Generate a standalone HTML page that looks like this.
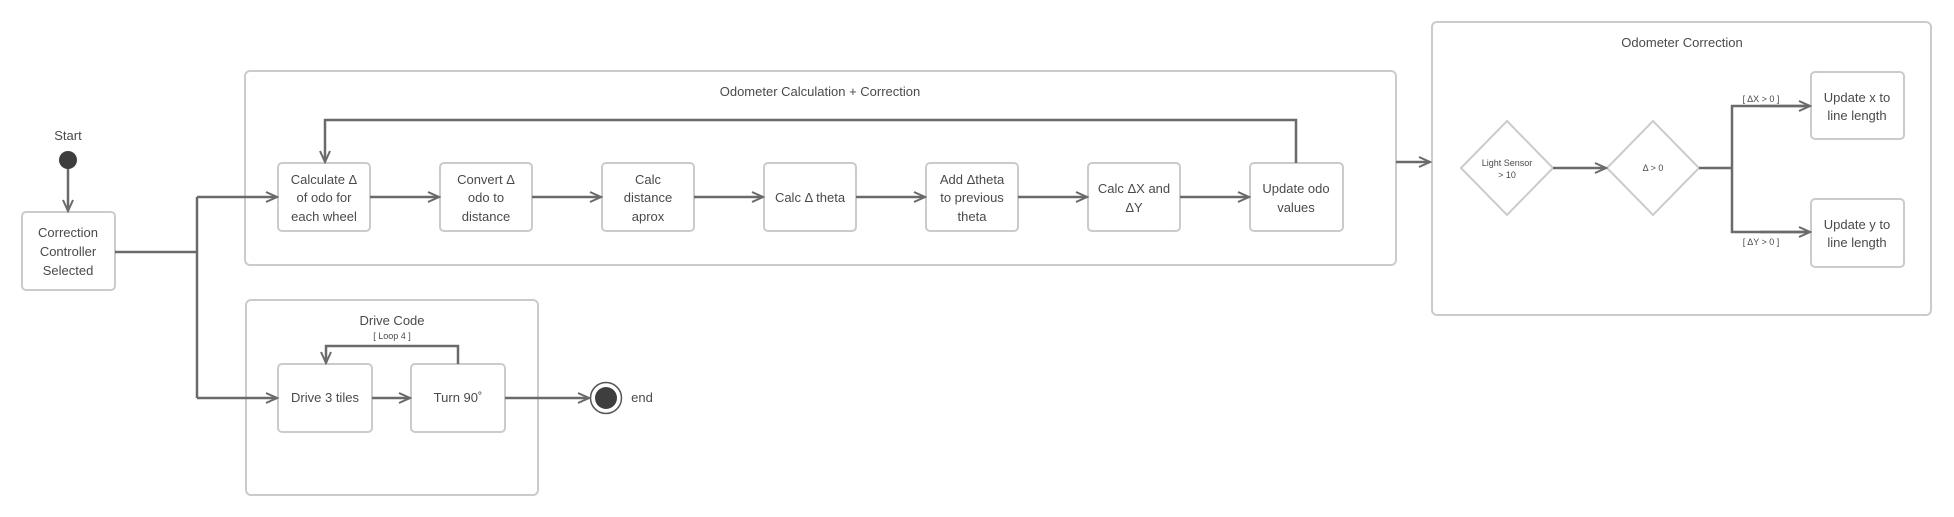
<!DOCTYPE html>
<html><head><meta charset="utf-8"><style>
html,body{margin:0;padding:0;background:#fff;}
svg{display:block;}
text{font-family:"Liberation Sans","DejaVu Sans",sans-serif;fill:#4a4a4a;}
</style></head><body>
<svg width="1954" height="517" viewBox="0 0 1954 517" xmlns="http://www.w3.org/2000/svg">
<defs>
<marker id="a" markerWidth="14" markerHeight="12" refX="12" refY="6" orient="auto" markerUnits="userSpaceOnUse">
<path d="M1,1 L12,6 L1,11" fill="none" stroke="#6a6a6a" stroke-width="2"/>
</marker>
</defs>
<g fill="#fff" stroke="#c9cccc" stroke-width="2">
<rect x="245" y="71" width="1151" height="194" rx="5"/>
<rect x="1432" y="22" width="499" height="293" rx="5"/>
<rect x="246" y="300" width="292" height="195" rx="5"/>
<rect x="22" y="212" width="93" height="78" rx="4"/>
<rect x="278" y="163" width="92" height="68" rx="4"/>
<rect x="440" y="163" width="92" height="68" rx="4"/>
<rect x="602" y="163" width="92" height="68" rx="4"/>
<rect x="764" y="163" width="92" height="68" rx="4"/>
<rect x="926" y="163" width="92" height="68" rx="4"/>
<rect x="1088" y="163" width="92" height="68" rx="4"/>
<rect x="1250" y="163" width="93" height="68" rx="4"/>
<rect x="1811" y="72" width="93" height="67" rx="4"/>
<rect x="1811" y="199" width="93" height="68" rx="4"/>
<rect x="278" y="364" width="94" height="68" rx="4"/>
<rect x="411" y="364" width="94" height="68" rx="4"/>
<path d="M1507,121 L1553,168 L1507,215 L1461,168 Z"/>
<path d="M1653,121 L1699,168 L1653,215 L1607,168 Z"/>
</g>
<g fill="none" stroke="#6a6a6a" stroke-width="2.5">
<line x1="68" y1="168" x2="68" y2="211" marker-end="url(#a)"/>
<polyline points="115,252 197,252"/>
<line x1="197" y1="197" x2="197" y2="398"/>
<line x1="197" y1="197" x2="277" y2="197" marker-end="url(#a)"/>
<line x1="197" y1="398" x2="277" y2="398" marker-end="url(#a)"/>
<line x1="370" y1="197" x2="439" y2="197" marker-end="url(#a)"/>
<line x1="532" y1="197" x2="601" y2="197" marker-end="url(#a)"/>
<line x1="694" y1="197" x2="763" y2="197" marker-end="url(#a)"/>
<line x1="856" y1="197" x2="925" y2="197" marker-end="url(#a)"/>
<line x1="1018" y1="197" x2="1087" y2="197" marker-end="url(#a)"/>
<line x1="1180" y1="197" x2="1249" y2="197" marker-end="url(#a)"/>
<polyline points="1296,163 1296,120 325,120 325,162" marker-end="url(#a)"/>
<line x1="1396" y1="162" x2="1430" y2="162" marker-end="url(#a)"/>
<line x1="1553" y1="168" x2="1606" y2="168" marker-end="url(#a)"/>
<line x1="1699" y1="168" x2="1732" y2="168"/>
<polyline points="1809,106 1732,106 1732,232 1809,232"/>
<line x1="1760" y1="106" x2="1810" y2="106" marker-end="url(#a)"/>
<line x1="1760" y1="232" x2="1810" y2="232" marker-end="url(#a)"/>
<line x1="372" y1="398" x2="410" y2="398" marker-end="url(#a)"/>
<polyline points="458,364 458,346 326,346 326,363" marker-end="url(#a)"/>
<line x1="505" y1="398" x2="589" y2="398" marker-end="url(#a)"/>
</g>
<circle cx="68" cy="160" r="9" fill="#3d3e40"/>
<circle cx="606" cy="398" r="15.5" fill="#fff" stroke="#555" stroke-width="1.5"/>
<circle cx="606" cy="398" r="11" fill="#3d3e40"/>
<g font-size="13" text-anchor="middle">
<text x="68" y="140">Start</text>
<text x="68" y="237">Correction</text><text x="68" y="256">Controller</text><text x="68" y="275">Selected</text>
<text x="820" y="96">Odometer Calculation + Correction</text>
<text x="324" y="184">Calculate Δ</text><text x="324" y="202">of odo for</text><text x="324" y="221">each wheel</text>
<text x="486" y="184">Convert Δ</text><text x="486" y="202">odo to</text><text x="486" y="221">distance</text>
<text x="648" y="184">Calc</text><text x="648" y="202">distance</text><text x="648" y="221">aprox</text>
<text x="810" y="202">Calc Δ theta</text>
<text x="972" y="184">Add Δtheta</text><text x="972" y="202">to previous</text><text x="972" y="221">theta</text>
<text x="1134" y="193">Calc ΔX and</text><text x="1134" y="212">ΔY</text>
<text x="1296" y="193">Update odo</text><text x="1296" y="212">values</text>
<text x="1682" y="47">Odometer Correction</text>
<text x="1857" y="102">Update x to</text><text x="1857" y="120">line length</text>
<text x="1857" y="229">Update y to</text><text x="1857" y="247">line length</text>
<text x="392" y="325">Drive Code</text>
<text x="325" y="402">Drive 3 tiles</text>
<text x="458" y="402">Turn 90˚</text>
<text x="642" y="402">end</text>
</g>
<g font-size="9" text-anchor="middle">
<text x="1507" y="166">Light Sensor</text><text x="1507" y="178">&gt; 10</text>
<text x="1653" y="171">Δ &gt; 0</text>
<text x="1761" y="102">[ ΔX &gt; 0 ]</text>
<text x="1761" y="245">[ ΔY &gt; 0 ]</text>
<text x="392" y="339">[ Loop 4 ]</text>
</g>
</svg>
</body></html>
